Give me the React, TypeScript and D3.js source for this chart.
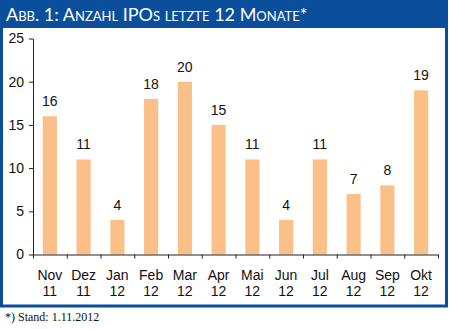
import { scaleBand, scaleLinear, axisLeft, axisBottom, select } from "d3";
import { useEffect, useRef } from "react";

const months = ["Nov", "Dez", "Jan", "Feb", "Mar", "Apr", "Mai", "Jun", "Jul", "Aug", "Sep", "Okt"];
const years = ["11", "11", "12", "12", "12", "12", "12", "12", "12", "12", "12", "12"];
const ipos = [16, 11, 4, 18, 20, 15, 11, 4, 11, 7, 8, 19];
const yTicks = [0, 5, 10, 15, 20, 25];

const width = 449;
const height = 329;
const blue = "#0b4f9c";
const barColor = "#fac088";
const labelFont = "'Liberation Sans', Arial, sans-serif";

const plot = { left: 33, right: 438, top: 38.5, bottom: 254.5 };

const xScale = scaleBand<number>()
  .domain(ipos.map((_, i) => i))
  .range([plot.left, plot.right])
  .paddingInner(0.58)
  .paddingOuter(0.29);

const yScale = scaleLinear().domain([0, 25]).range([plot.bottom, plot.top]);

const YAxis = () => {
  const ref = useRef<SVGGElement>(null);
  useEffect(() => {
    const g = select(ref.current!);
    g.call(axisLeft(yScale).tickValues(yTicks).tickSizeInner(4).tickSizeOuter(0).tickPadding(5));
    g.select(".domain").attr("stroke", "#222");
    g.selectAll(".tick line").attr("stroke", "#222");
    g.selectAll("text")
      .attr("font-family", labelFont)
      .attr("font-size", 14)
      .attr("fill", "#111");
  }, []);
  return <g ref={ref} transform={`translate(${plot.left},0)`} />;
};

const XAxis = () => {
  const ref = useRef<SVGGElement>(null);
  useEffect(() => {
    const g = select(ref.current!);
    const step = xScale.step();
    const bounds = ipos.map((_, i) => (xScale(i) as number) - (step - xScale.bandwidth()) / 2).concat(plot.right);
    const lin = scaleLinear().domain([plot.left, plot.right]).range([plot.left, plot.right]);
    g.call(axisBottom(lin).tickValues(bounds).tickSizeInner(4).tickSizeOuter(0).tickFormat(() => ""));
    g.select(".domain").attr("stroke", "#222");
    g.selectAll(".tick line").attr("stroke", "#222");
  }, []);
  return <g ref={ref} transform={`translate(0,${plot.bottom})`} />;
};

export default function App() {
  return (
    <div style={{ position: "fixed", left: 0, top: 0 }}>
      <svg width={width} height={height} style={{ display: "block", background: "#fff" }}>
        <rect x={1.5} y={0} width={445} height={306} fill="#fff" stroke={blue} strokeWidth={3} />
        <rect x={0} y={0} width={448} height={28} fill={blue} />
        <text
          x={6}
          y={21}
          fill="#fff"
          fontFamily="Lato, 'Open Sans', sans-serif"
          fontSize={18}
          style={{ fontVariant: "small-caps" }}
        >
          Abb. 1: Anzahl IPOs letzte 12 Monate*
        </text>

        {ipos.map((v, i) => (
          <rect
            key={i}
            x={xScale(i)}
            y={yScale(v)}
            width={xScale.bandwidth()}
            height={yScale(0) - yScale(v)}
            fill={barColor}
          />
        ))}
        {ipos.map((v, i) => (
          <text
            key={"v" + i}
            x={(xScale(i) as number) + xScale.bandwidth() / 2}
            y={yScale(v) - 10}
            textAnchor="middle"
            fontFamily={labelFont}
            fontSize={14}
            fill="#111"
          >
            {v}
          </text>
        ))}

        <YAxis />
        <XAxis />

        {months.map((m, i) => (
          <text
            key={"m" + i}
            x={(xScale(i) as number) + xScale.bandwidth() / 2}
            y={279.5}
            textAnchor="middle"
            fontFamily={labelFont}
            fontSize={14}
            fill="#111"
          >
            {m}
          </text>
        ))}
        {years.map((y, i) => (
          <text
            key={"y" + i}
            x={(xScale(i) as number) + xScale.bandwidth() / 2}
            y={295.5}
            textAnchor="middle"
            fontFamily={labelFont}
            fontSize={14}
            fill="#111"
          >
            {y}
          </text>
        ))}

        <text x={5} y={321} fontFamily="'Liberation Serif', serif" fontSize={12} fill="#111">
          *) Stand: 1.11.2012
        </text>
      </svg>
    </div>
  );
}
